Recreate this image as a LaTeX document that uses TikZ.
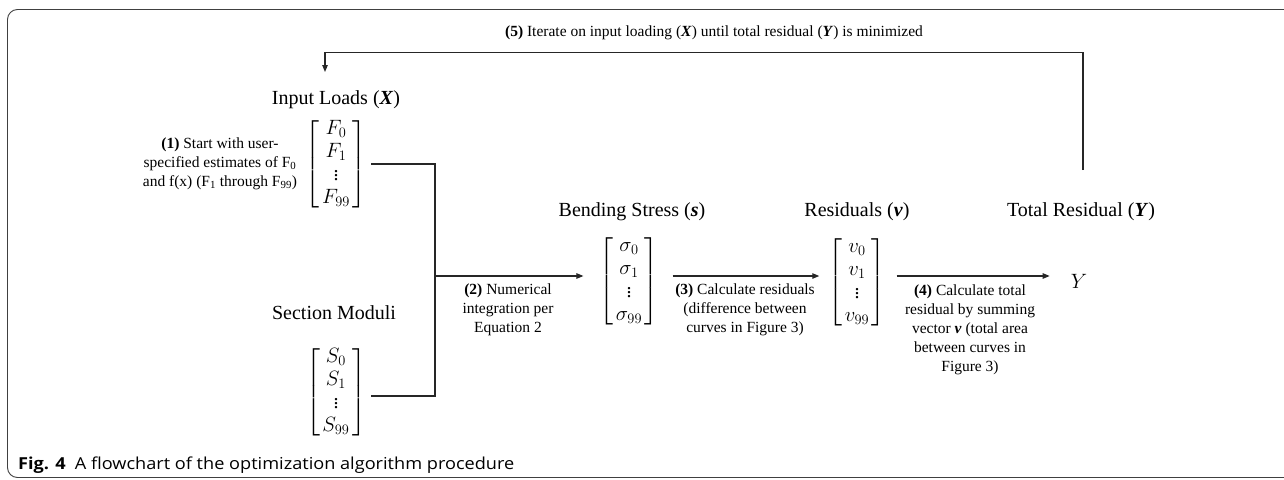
\documentclass[tikz,border=0pt]{standalone}
\usepackage{amsmath}
\usepackage{fontspec}
\setmainfont{Liberation Serif}
\newfontfamily\capfont[FakeStretch=1.1]{Open Sans}
\usetikzlibrary{arrows.meta}
\newcommand{\colvec}[3]{\left[\renewcommand{\arraystretch}{1.02}\begin{array}{@{\hspace{2.5pt}}c@{\hspace{2.5pt}}} #1\\ #2\\ \vdots\\ #3\end{array}\right]}
\begin{document}
\begin{tikzpicture}[x=1pt,y=-1pt,
  lbl/.style={font=\fontsize{20}{24}\selectfont, inner sep=0pt},
  stepl/.style={font=\fontsize{15.5}{19}\selectfont, align=center, inner sep=0pt},
  mat/.style={font=\fontsize{20}{22.5}\selectfont, inner sep=0pt},
  conn/.style={line width=1.1pt, draw=black!85},
  arr/.style={conn, -{Triangle[length=7pt,width=5.5pt]}}]
\useasboundingbox (0,0) rectangle (1284,479);
\draw[line width=0.9pt, draw=black!75, rounded corners=10pt] (7.5,9.5) rectangle (1300,477.5);

% labels
\node[stepl] (s5) at (714,33) {\textbf{(5)} Iterate on input loading (\textbf{\textit{X}}) until total residual (\textbf{\textit{Y}}) is minimized};
\node[lbl] (inlbl) at (336,100) {Input Loads (\textbf{\textit{X}})};
\node[lbl] (smlbl) at (334,313) {Section Moduli};
\node[lbl] (bslbl) at (632,212) {Bending Stress (\textbf{\textit{s}})};
\node[lbl] (rslbl) at (857,212) {Residuals (\textbf{\textit{v}})};
\node[lbl] (trlbl) at (1081,212) {Total Residual (\textbf{\textit{Y}})};

% matrices
\node[mat] (Fm) at (336,164) {$\colvec{F_0}{F_1}{F_{99}}$};
\node[mat] (Sm) at (336,392) {$\colvec{S_0}{S_1}{S_{99}}$};
\node[mat] (sigm) at (629,281.5) {$\colvec{\sigma_0}{\sigma_1}{\sigma_{99}}$};
\node[mat] (vm) at (857,282.5) {$\colvec{v_0}{v_1}{v_{99}}$};
\node[mat] (Y) at (1079,281) {$Y$};

% step texts
\node[stepl] (s1) at (220,164) {\textbf{(1)} Start with user-\\specified estimates of F\textsubscript{0}\\and f(x) (F\textsubscript{1} through F\textsubscript{99})};
\node[stepl] (s2) at (508,310) {\textbf{(2)} Numerical\\integration per\\Equation 2};
\node[stepl] (s3) at (745,310) {\textbf{(3)} Calculate residuals\\(difference between\\curves in Figure 3)};
\node[stepl] (s4) at (970,329.5) {\textbf{(4)} Calculate total\\residual by summing\\vector \textbf{\textit{v}} (total area\\between curves in\\Figure 3)};

% connectors
\coordinate (jx) at (435,276);
\draw[conn] ([xshift=5pt]Fm.east) -| (jx);
\draw[conn] ([xshift=5pt,yshift=-4pt]Sm.east) -| (jx);
\draw[arr, shorten >=16pt] (jx) -- (jx -| sigm.west);
\draw[arr, shorten <=14pt, shorten >=9pt] ([yshift=5.5pt]sigm.east) -- ([yshift=6.5pt]vm.west);
\draw[arr, shorten <=11pt, shorten >=21pt] ([yshift=6.5pt]vm.east) -- ([yshift=5pt]Y.west);

\coordinate (fbstart) at (1083,170);
\coordinate (fbR) at (1083,52.5);
\coordinate (fbL) at (325,52.5);
\coordinate (fbend) at (325,72);
\draw[arr] (fbstart) -- (fbR) -- (fbL) -- (fbend);

% caption
\node[anchor=west, inner sep=0pt, font=\capfont\fontsize{16.5}{19}\selectfont] (cap) at (18,465) {\textbf{Fig. 4}\hspace{0.55em}A flowchart of the optimization algorithm procedure};
\end{tikzpicture}
\end{document}
